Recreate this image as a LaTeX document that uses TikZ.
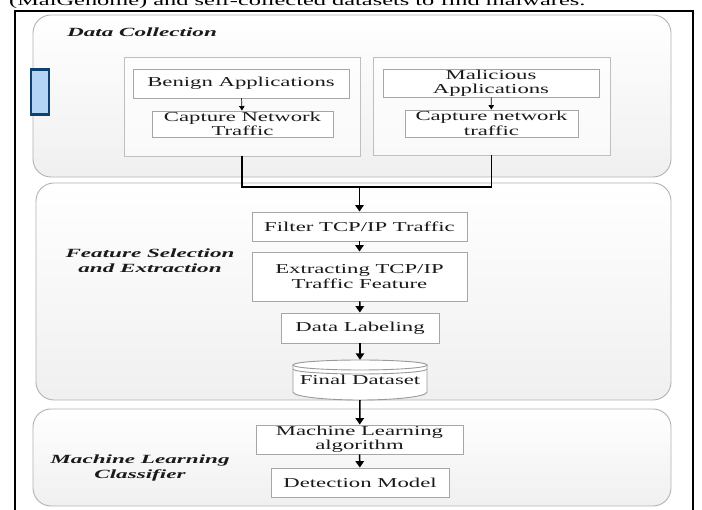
\documentclass[tikz,border=0pt]{standalone}
\usepackage{fontspec}
\setmainfont{Liberation Serif}
\newfontfamily\boxfont{Liberation Serif}[FakeStretch=1.67]
\newfontfamily\lblfont{Liberation Serif}[FakeStretch=1.85]
\usetikzlibrary{arrows.meta,shadows}
\definecolor{bluefill}{HTML}{B3D4F5}
\definecolor{blueedge}{HTML}{0E4170}
\definecolor{txt}{HTML}{1A1A1A}
\tikzset{
  panel/.style={draw=black!30, line width=0.9pt, rounded corners=18pt, top color=white, bottom color=black!6},
  holder/.style={draw=black!25, line width=0.9pt, fill=white, fill opacity=0.6, text opacity=1, inner sep=0pt},
  stepbox/.style={draw=black!35, line width=0.9pt, fill=white, inner sep=0pt, align=center, text=txt,
    font=\boxfont\fontsize{13.6}{14.5}\selectfont,
    drop shadow={shadow xshift=1pt, shadow yshift=-1pt, fill=black!22, opacity=0.6}},
  plabel/.style={font=\lblfont\bfseries\itshape\fontsize{12.5}{15}\selectfont, align=center, text=txt, inner sep=0pt},
  mainarrow/.style={line width=1.5pt, -{Triangle[length=6.5pt,width=8.5pt]}},
  thinarrow/.style={line width=0.7pt, -{Triangle[length=4.5pt,width=5.5pt]}},
  link/.style={line width=1.5pt}
}
\begin{document}
\begin{tikzpicture}[x=1pt,y=-1pt]
\useasboundingbox (0,0) rectangle (702,510);
\clip (0,0) rectangle (702,510);
\fill[white] (0,0) rectangle (702,510);

% caption line cut at top
\node[anchor=base west, inner sep=0pt, font=\boxfont\fontsize{14.6}{16}\selectfont] (cap) at (9,6)
  {(MalGenome) and self-collected datasets to find malwares.};

% outer frame
\draw[line width=1.5pt] (15,11) rectangle (693,530);

% panels
\path[panel] (33,15) rectangle (671,177);
\path[panel] (36,183) rectangle (671,400);
\path[panel] (33,409) rectangle (671,506);

% panel labels
\node[plabel, anchor=west] (lbl1) at (67,32) {Data Collection};
\node[plabel] (lbl2) at (150,260.5) {Feature Selection\\and Extraction};
\node[plabel] (lbl3) at (140,467.5) {Machine Learning\\Classifier};

% blue marker
\node[draw=blueedge, fill=bluefill, line width=2.5pt, minimum width=18pt, minimum height=45pt, inner sep=0pt] (blue) at (40,92) {};

% containers
\node[holder, minimum width=236pt, minimum height=99pt] (bc) at (242,106.5) {};
\node[holder, minimum width=237pt, minimum height=98pt] (mc) at (491.5,106) {};

% data collection boxes
\node[stepbox, minimum width=216pt, minimum height=29pt] (ba) at (241,83.5) {Benign Applications};
\node[stepbox, minimum width=181pt, minimum height=26pt] (cb) at (242.5,124) {Capture Network\\Traffic};
\node[stepbox, minimum width=216pt, minimum height=28pt] (ma) at (491,83) {Malicious\\Applications};
\node[stepbox, minimum width=173pt, minimum height=27pt] (cm) at (491.5,123.5) {Capture network\\traffic};

% feature boxes
\node[stepbox, minimum width=215pt, minimum height=29pt] (ft) at (359.5,226.5) {Filter TCP/IP Traffic};
\node[stepbox, minimum width=215pt, minimum height=49pt] (ex) at (359.5,276.5) {Extracting TCP/IP\\Traffic Feature};
\node[stepbox, minimum width=158pt, minimum height=30pt] (dl) at (360,328) {Data Labeling};

% cylinder
\node[inner sep=0pt, minimum width=134pt, minimum height=40pt] (fd) at (360,380) {};
\draw[draw=black!40, line width=0.9pt, fill=white]
  (293,365) -- (293,392) arc (180:0:67 and 8) -- (427,365);
\draw[draw=black!40, line width=0.9pt, fill=white] (360,365) ellipse (67 and 5);
\draw[draw=black!40, line width=0.9pt] (293,369) arc (180:0:67 and 5);
\node[inner sep=0pt, text=txt, font=\boxfont\fontsize{13.6}{14.5}\selectfont] (fdtext) at (fd.center) {\raisebox{-7pt}{Final Dataset}};

% ML boxes
\node[stepbox, minimum width=207pt, minimum height=29pt] (ml) at (359.5,439.5) {Machine Learning\\algorithm};
\node[stepbox, minimum width=178pt, minimum height=29pt] (det) at (360,482.5) {Detection Model};

% connectors
\draw[thinarrow] (ba) -- (cb);
\draw[thinarrow] (ma) -- (cm);
\coordinate (j) at (ft.north |- 0,187);
\draw[link] (bc.south) |- (j) -| (mc.south);
\draw[mainarrow] (j) -- (ft.north);
\draw[mainarrow] (ft) -- (ex);
\draw[mainarrow] (ex) -- (dl);
\draw[mainarrow] (dl) -- (fd.north);
\draw[mainarrow] (fd.south) -- (ml);
\draw[mainarrow] (ml) -- (det);
\end{tikzpicture}
\end{document}
